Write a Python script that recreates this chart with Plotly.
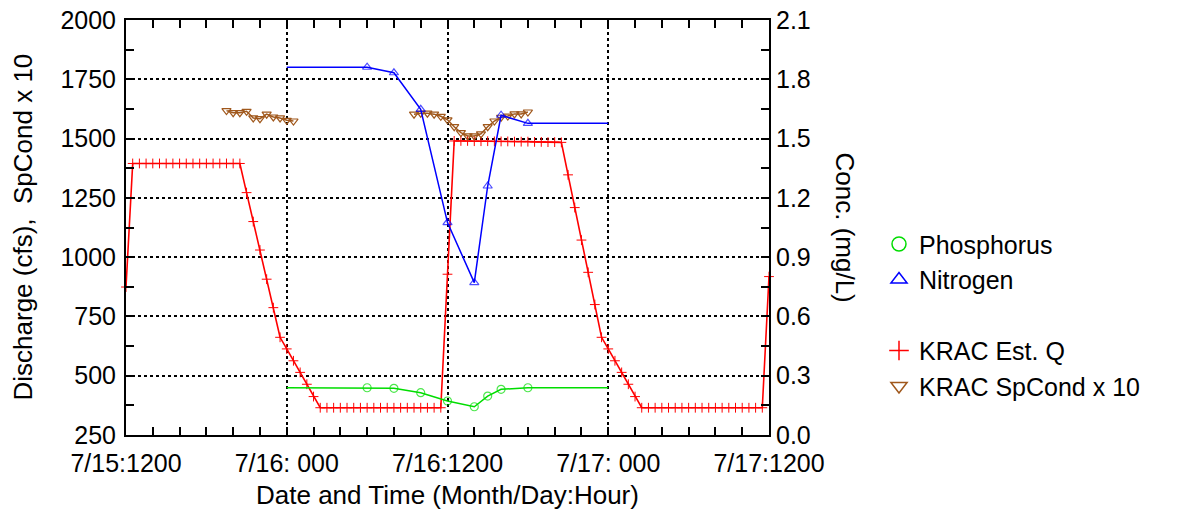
import numpy as np
import plotly.graph_objects as go

# ---------------- data (hours since 7/15 12:00) ----------------
tick_hours = [0, 12, 24, 36, 48]
tick_labels = ["7/15:1200", "7/16: 000", "7/16:1200", "7/17: 000", "7/17:1200"]

# KRAC estimated discharge, every 30 minutes from 7/15 12:00 to 7/17 12:00
discharge_hours = np.arange(0, 48.5, 0.5)
discharge_cfs = [
    874,
    1395, 1395, 1395, 1395, 1395, 1395, 1395, 1395, 1395, 1395, 1395, 1395, 1395, 1395, 1395, 1395, 1395,
    1272, 1150, 1030, 907, 787, 662, 613, 563, 514, 464, 412, 365,
    365, 365, 365, 365, 365, 365, 365, 365, 365, 365, 365, 365, 365, 365, 365, 365, 365, 365,
    928,
    1490, 1490, 1490, 1489, 1489, 1489, 1488, 1488, 1488, 1487, 1487, 1487, 1486, 1486, 1485, 1485, 1484,
    1347, 1209, 1072, 936, 800, 662, 613, 563, 514, 464, 412, 365,
    365, 365, 365, 365, 365, 365, 365, 365, 365, 365, 365, 365, 365, 365, 365, 365, 365, 365,
    918,
]

# KRAC specific conductance x 10 (two records)
spcond_hours_1 = [7.5, 8, 8.5, 9, 9.5, 10, 10.5, 11, 11.5, 12, 12.5]
spcond_vals_1 = [1618, 1609, 1609, 1615, 1587, 1584, 1603, 1591, 1587, 1577, 1574]
spcond_hours_2 = [21.5, 22, 22.5, 23, 23.5, 24, 24.5, 25, 25.5, 26, 26.5, 27, 27.5, 28, 28.5, 29, 29.5, 30]
spcond_vals_2 = [1603, 1607, 1607, 1603, 1594, 1579, 1550, 1525, 1511, 1511, 1520, 1550, 1574, 1590,
                 1595, 1604, 1604, 1612]

# constituent samples (mg/L) and the reporting window they are drawn over
window_start, window_end = 12, 36
sample_hours = [18, 20, 22, 24, 26, 27, 28, 30]
nitrogen = [1.861, 1.833, 1.648, 1.075, 0.771, 1.260, 1.618, 1.577]
phosphorus = [0.239, 0.236, 0.214, 0.172, 0.143, 0.197, 0.231, 0.239]

# ---------------- styling ----------------
FONT = "Liberation Sans, Arial, sans-serif"
RED = "#ff0000"
BLUE = "#0000ff"
GREEN = "#00dd00"
BROWN = "#a0581c"

fig = go.Figure()

fig.add_trace(go.Scatter(
    x=discharge_hours, y=discharge_cfs, mode="lines+markers", yaxis="y",
    line=dict(color=RED, width=1.6),
    marker=dict(symbol="cross-thin", size=7, line=dict(color=RED, width=1)),
    showlegend=False, cliponaxis=False))

sp_x = spcond_hours_1 + [None] + spcond_hours_2
sp_y = spcond_vals_1 + [None] + spcond_vals_2
fig.add_trace(go.Scatter(
    x=sp_x, y=sp_y, mode="lines+markers", yaxis="y",
    line=dict(color=BROWN, width=1.5),
    marker=dict(symbol="triangle-down-open", size=8, color=BROWN, line=dict(color=BROWN, width=1.2)),
    showlegend=False))

line_x = [window_start] + sample_hours + [window_end]
msize = [0] + [8] * len(sample_hours) + [0]
fig.add_trace(go.Scatter(
    x=line_x, y=[nitrogen[0]] + nitrogen + [nitrogen[-1]], mode="lines+markers", yaxis="y2",
    line=dict(color=BLUE, width=1.5),
    marker=dict(symbol="triangle-up-open", size=msize, color=BLUE, line=dict(color=BLUE, width=1.2)),
    showlegend=False))
fig.add_trace(go.Scatter(
    x=line_x, y=[phosphorus[0]] + phosphorus + [phosphorus[-1]], mode="lines+markers", yaxis="y2",
    line=dict(color=GREEN, width=1.5),
    marker=dict(symbol="circle-open", size=msize, color=GREEN, line=dict(color=GREEN, width=1.2)),
    showlegend=False))

# legend entries (markers only, as in the reference)
def legend_entry(name, symbol, color):
    fig.add_trace(go.Scatter(
        x=[None], y=[None], mode="markers", name=name,
        marker=dict(symbol=symbol, size=14, color=color, line=dict(color=color, width=1.5))))

legend_entry("Phosphorus", "circle-open", GREEN)
legend_entry("Nitrogen", "triangle-up-open", BLUE)
legend_entry(" ", "circle", "rgba(0,0,0,0)")
legend_entry("KRAC Est. Q", "cross-thin", RED)
legend_entry("KRAC SpCond x 10", "triangle-down-open", BROWN)

axis_common = dict(
    showline=True, linecolor="black", linewidth=2, mirror="ticks",
    ticks="inside", ticklen=8, tickwidth=2, tickcolor="black",
    showgrid=True, gridcolor="black", griddash="dot", gridwidth=2,
    zeroline=False, automargin=False, tickfont=dict(family=FONT, size=25, color="black"),
)

fig.update_layout(
    width=1180, height=510,
    margin=dict(l=126, r=411, t=20, b=75, autoexpand=False),
    paper_bgcolor="white", plot_bgcolor="white",
    font=dict(family=FONT, size=25, color="black"),
    xaxis=dict(range=[0, 48], tickmode="array", tickvals=tick_hours, ticktext=tick_labels,
               minor=dict(dtick=2, tick0=0, ticks="inside", ticklen=8, tickwidth=2,
                          tickcolor="black", showgrid=False),
               ticklabelstandoff=5, **axis_common),
    yaxis=dict(range=[250, 2000], tick0=250, dtick=250,
               minor=dict(dtick=125, tick0=250, ticks="inside", ticklen=8, tickwidth=2,
                          tickcolor="black", showgrid=False),
               ticklabelstandoff=3, **axis_common),
    yaxis2=dict(range=[0, 2.1], tick0=0, dtick=0.3, tickformat=".1f", overlaying="y", side="right",
                showgrid=False, showline=False, zeroline=False, ticks="", automargin=False,
                tickfont=dict(family=FONT, size=25, color="black"), ticklabelstandoff=6),
    legend=dict(x=(879 - 126) / 643, y=0.515, xanchor="left", yanchor="top",
                font=dict(family=FONT, size=25, color="black"),
                bgcolor="rgba(0,0,0,0)", borderwidth=0, traceorder="normal"),
    annotations=[
        dict(text="Discharge (cfs),  SpCond x 10", xref="paper", yref="paper",
             x=(22 - 126) / 643, y=0.5, textangle=-90, showarrow=False,
             xanchor="center", yanchor="middle", font=dict(family=FONT, size=26)),
        dict(text="Conc. (mg/L)", xref="paper", yref="paper",
             x=(845 - 126) / 643, y=0.5, textangle=90, showarrow=False,
             xanchor="center", yanchor="middle", font=dict(family=FONT, size=26)),
        dict(text="Date and Time (Month/Day:Hour)", xref="paper", yref="paper",
             x=0.5, y=(435 - 495) / 415, showarrow=False,
             xanchor="center", yanchor="middle", font=dict(family=FONT, size=26)),
    ],
)

fig.write_html("out.html")
